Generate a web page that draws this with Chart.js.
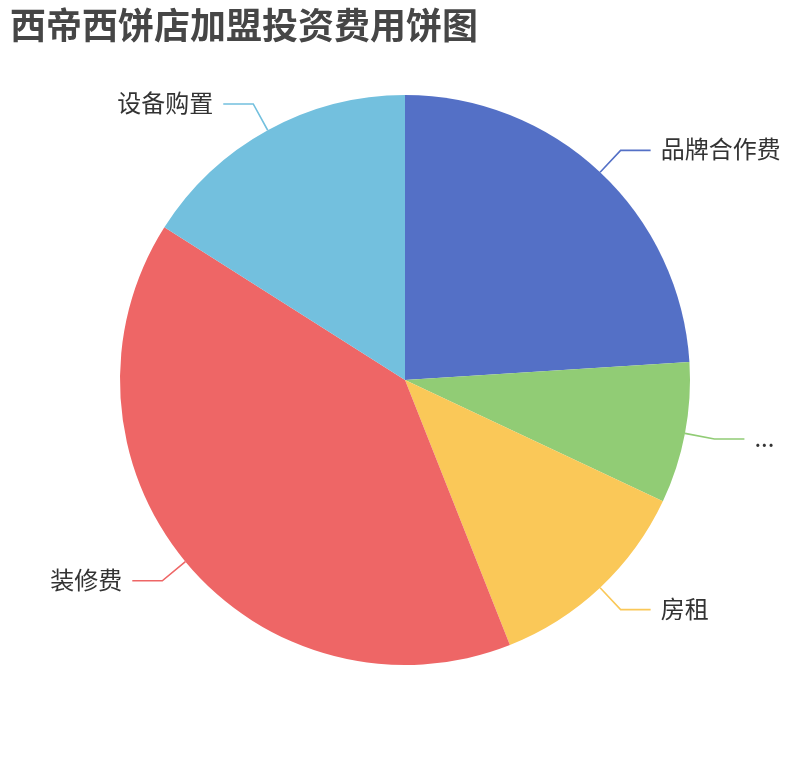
<!DOCTYPE html>
<html>
<head>
<meta charset="utf-8">
<script src="https://cdn.jsdelivr.net/npm/chart.js@4"></script>
<style>
  body { margin: 0; background: #fff; }
</style>
</head>
<body>
<canvas id="chart" width="810" height="760"></canvas>
<script>
const categories = ['品牌合作费', '...', '房租', '装修费', '设备购置']
const values = [24, 8, 12, 40, 16]
const colors = ['#5470c6', '#91cc75', '#fac858', '#ee6666', '#73c0de']

// leader lines + outside labels, echarts style
const outsideLabels = {
    id: 'outsideLabels',
    afterDatasetsDraw(chart) {
        const ctx = chart.ctx
        const meta = chart.getDatasetMeta(0)
        ctx.save()
        ctx.font = '24px "Noto Sans CJK SC", "Noto Sans", sans-serif'
        ctx.textBaseline = 'middle'
        meta.data.forEach((arc, i) => {
            const a = (arc.startAngle + arc.endAngle) / 2
            const r = arc.outerRadius
            const x0 = arc.x + r * Math.cos(a)
            const y0 = arc.y + r * Math.sin(a)
            const x1 = arc.x + (r + 30) * Math.cos(a)
            const y1 = arc.y + (r + 30) * Math.sin(a)
            const right = Math.cos(a) >= 0
            const x2 = x1 + (right ? 30 : -30)
            ctx.strokeStyle = colors[i]
            ctx.lineWidth = 1.6
            ctx.beginPath()
            ctx.moveTo(x0, y0)
            ctx.lineTo(x1, y1)
            ctx.lineTo(x2, y1)
            ctx.stroke()
            ctx.fillStyle = '#333'
            ctx.textAlign = right ? 'left' : 'right'
            ctx.fillText(categories[i], x2 + (right ? 10 : -10), y1 - 1)
        })
        ctx.restore()
    }
}

const config = {
    type: 'pie',
    data: {
        labels: categories,
        datasets: [{
            data: values,
            backgroundColor: colors,
            borderWidth: 0
        }]
    },
    options: {
        responsive: false,
        animation: false,
        devicePixelRatio: 1,
        layout: {
            padding: { left: 10, right: 10, top: 0, bottom: 95 }
        },
        plugins: {
            legend: { display: false },
            tooltip: { enabled: false },
            title: {
                display: true,
                text: '西帝西饼店加盟投资费用饼图',
                align: 'start',
                color: '#464646',
                font: { size: 36, weight: 'bold', family: '"Noto Sans CJK SC", sans-serif', lineHeight: 1 },
                padding: { top: 7, bottom: 52 }
            }
        }
    },
    plugins: [outsideLabels]
}

new Chart(document.getElementById('chart'), config)
</script>
</body>
</html>
